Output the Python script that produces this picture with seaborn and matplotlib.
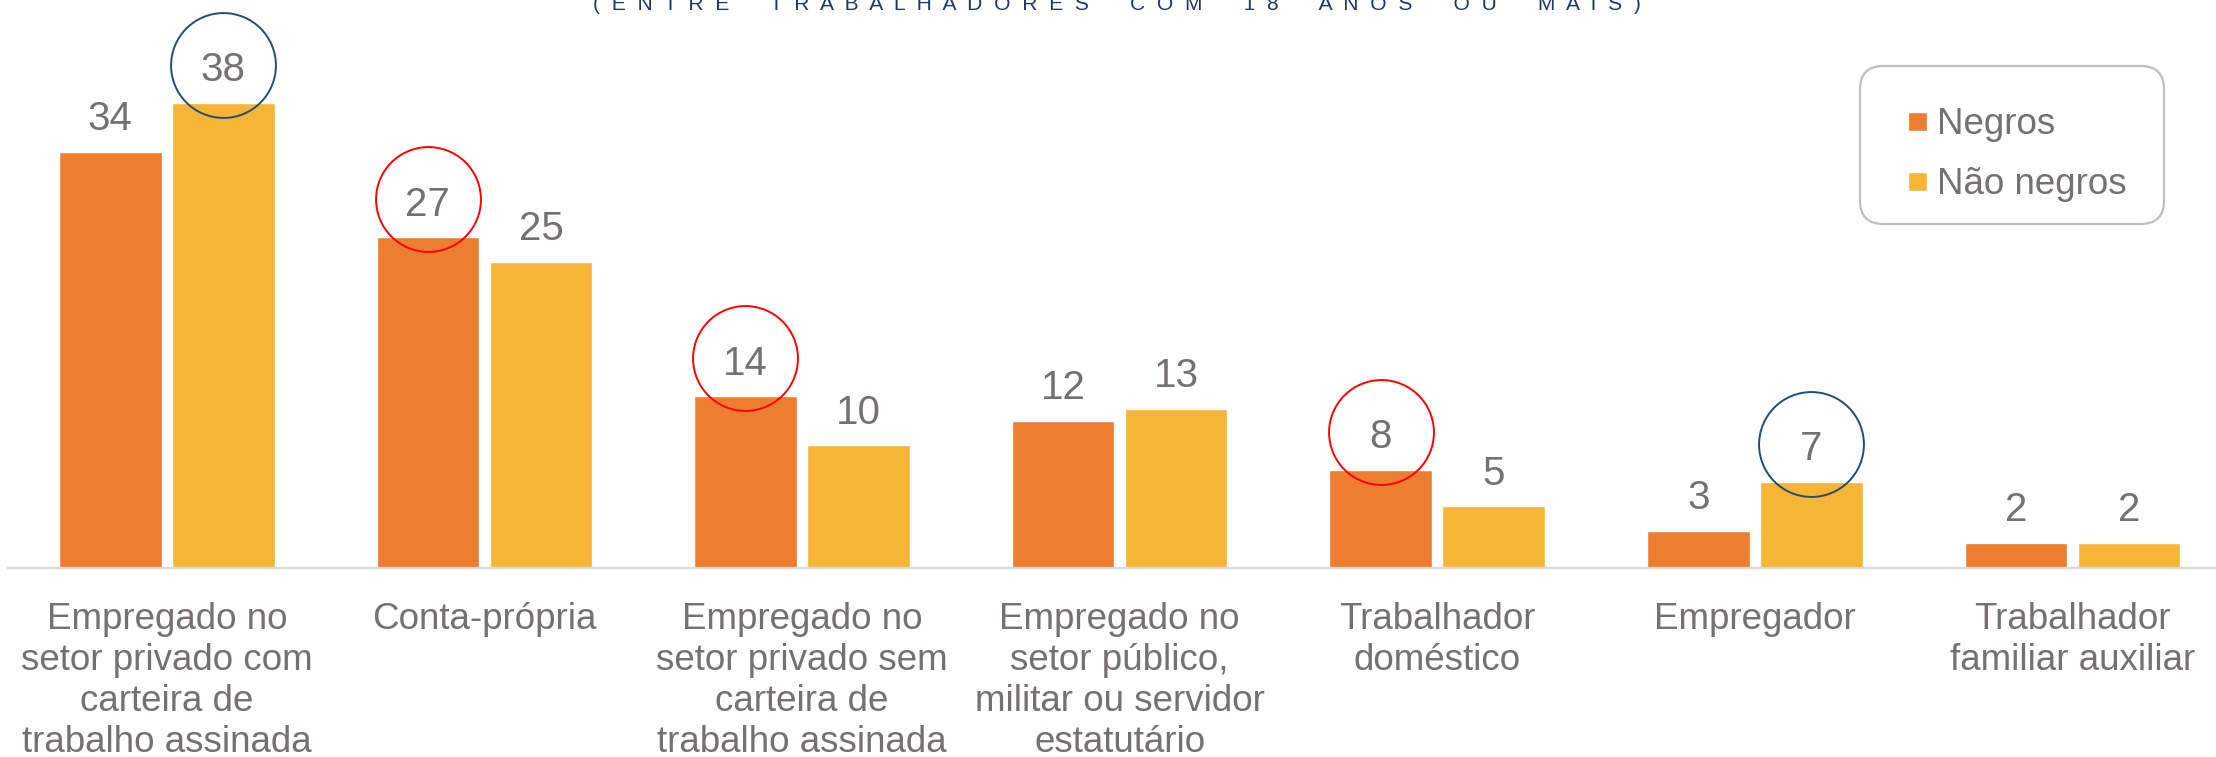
import matplotlib
matplotlib.use("Agg")
import matplotlib.pyplot as plt
from matplotlib.transforms import offset_copy
from matplotlib.patches import FancyBboxPatch, Rectangle
from matplotlib.legend_handler import HandlerPatch
import seaborn as sns
import pandas as pd

# ---- data ----
categories = [
    "Empregado no\nsetor privado com\ncarteira de\ntrabalho assinada",
    "Conta-própria",
    "Empregado no\nsetor privado sem\ncarteira de\ntrabalho assinada",
    "Empregado no\nsetor público,\nmilitar ou servidor\nestatutário",
    "Trabalhador\ndoméstico",
    "Empregador",
    "Trabalhador\nfamiliar auxiliar",
]
series_names = ["Negros", "Não negros"]
negros = [34, 27, 14, 12, 8, 3, 2]
nao_negros = [38, 25, 10, 13, 5, 7, 2]
circle_negros = [False, True, True, False, True, False, False]
circle_nao_negros = [True, False, False, False, False, True, False]
title_words = ["(ENTRE", "TRABALHADORES", "COM", "18", "ANOS", "OU", "MAIS)"]

colors = ["#ED7D31", "#F6B537"]
text_gray = "#767171"

df = pd.DataFrame({
    "categoria": categories * 2,
    "grupo": [series_names[0]] * len(categories) + [series_names[1]] * len(categories),
    "valor": negros + nao_negros,
})

sns.set_theme(style="white")
plt.rcParams["font.family"] = ["Liberation Sans", "DejaVu Sans"]

W, H = 2216, 757
fig = plt.figure(figsize=(W / 100, H / 100), dpi=100)
ax = fig.add_axes([8 / W, (H - 567.5) / H, 2223.2 / W, 567.5 / H])

sns.barplot(data=df, x="categoria", y="valor", hue="grupo", order=categories,
            hue_order=series_names, palette=colors, width=0.712, gap=0.093,
            saturation=1, ax=ax, legend=True)

ax.set_ylim(0, 46.4)
ax.set_xlim(-0.5, len(categories) - 0.5)
ax.set_xlabel("")
ax.set_ylabel("")
ax.set_yticks([])
for s in ["top", "left", "right"]:
    ax.spines[s].set_visible(False)
ax.spines["bottom"].set_color("#D9D9D9")
ax.spines["bottom"].set_linewidth(1.6)
ax.tick_params(axis="x", length=0, pad=24.8, labelsize=26.5, labelcolor=text_gray)
for lab in ax.get_xticklabels():
    lab.set_linespacing(1.22)
    lab.set_horizontalalignment("center")

# value labels
for cont in ax.containers:
    ax.bar_label(cont, fmt="%d", padding=9.8, fontsize=29, color=text_gray)

# circles around highlighted labels
trans = offset_copy(ax.transData, fig=fig, x=0, y=27.2, units="points")
circle_specs = [(ax.containers[0], circle_negros, "#FF0000"),
                (ax.containers[1], circle_nao_negros, "#1F4E79")]
for cont, flags, col in circle_specs:
    for bar, flag in zip(cont.patches, flags):
        if flag:
            ax.plot([bar.get_x() + bar.get_width() / 2], [bar.get_height()],
                    marker="o", ms=75.5, mfc="none", mec=col, mew=1.4,
                    transform=trans, clip_on=False, zorder=5)

# legend (frameless) + rounded box
def square_patch(legend, orig_handle, xdescent, ydescent, width, height, fontsize):
    sq = 19 * 72 / 100
    return Rectangle((-xdescent + width - sq, -ydescent + (height - sq) / 2), sq, sq)

handles, labels = ax.get_legend_handles_labels()
leg = ax.legend(handles[:2], labels[:2], loc="upper left",
                bbox_to_anchor=(1908 / W, 1 - 107 / H), bbox_transform=fig.transFigure,
                borderaxespad=0, borderpad=0, fontsize=26.5, frameon=False,
                handlelength=19 / 36.8, handleheight=0.6, handletextpad=0.27,
                labelspacing=0.68, labelcolor=text_gray,
                handler_map={Rectangle: HandlerPatch(patch_func=square_patch)})
box = FancyBboxPatch((1860 / W, 1 - 224 / H), 304 / W, 158 / H,
                     boxstyle="round,pad=0,rounding_size=0.0105",
                     transform=fig.transFigure, facecolor="none",
                     edgecolor="#BFBFBF", linewidth=1.6, mutation_aspect=W / H)
fig.add_artist(box)

# cropped title at top (letter-spaced)
spaced = (" " * 7).join("  ".join(list(w)) for w in title_words)
fig.text(1117 / W, 1 - 10 / H, spaced, ha="center", va="baseline",
         fontsize=15.1, color="#1F3864")

fig.savefig("out.png", dpi=100)
